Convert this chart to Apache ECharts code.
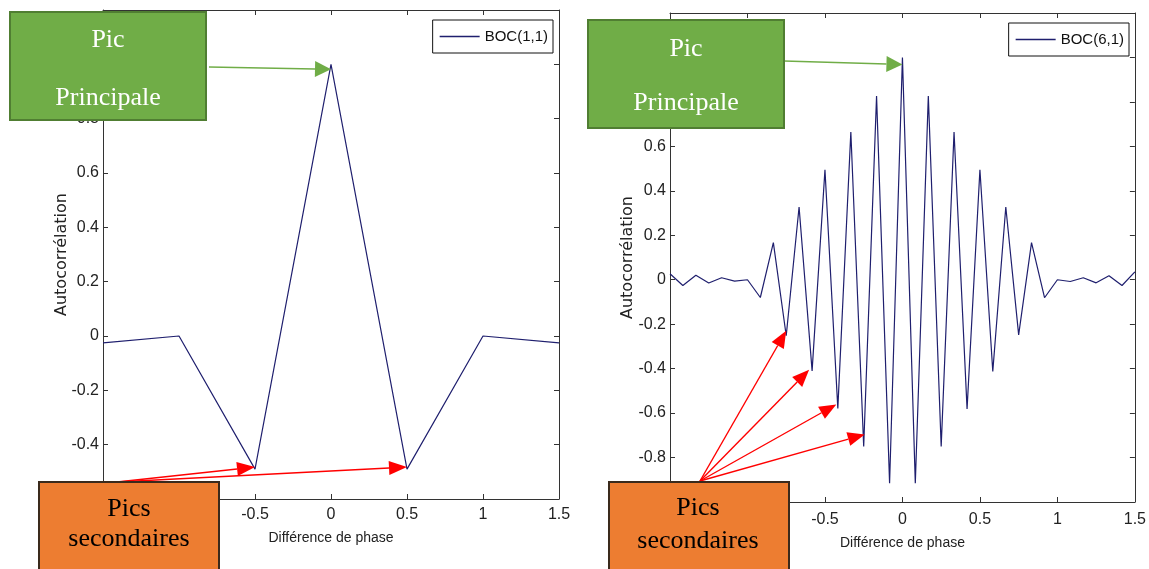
<!DOCTYPE html>
<html><head><meta charset="utf-8">
<script src="https://cdn.jsdelivr.net/npm/echarts@6/dist/echarts.min.js"></script>
<style>html,body{margin:0;padding:0;background:#fff}#c{width:1149px;height:569px}</style>
</head><body><div id="c"></div>
<script>
// ---------- data ----------
const phaseBoc11 = [-1.5, -1, -0.5, 0, 0.5, 1, 1.5];
const corrBoc11  = [-0.025, 0, -0.49, 1.0, -0.49, 0, -0.025];

const phaseBoc61 = [-1.5, -1.417, -1.333, -1.25, -1.167, -1.083, -1, -0.917, -0.833, -0.75, -0.667, -0.583,
  -0.5, -0.417, -0.333, -0.25, -0.167, -0.083, 0, 0.083, 0.167, 0.25, 0.333, 0.417, 0.5, 0.583, 0.667,
  0.75, 0.833, 0.917, 1, 1.083, 1.167, 1.25, 1.333, 1.417, 1.5];
const corrBoc61  = [0.027, -0.026, 0.02, -0.015, 0.009, -0.006, 0, -0.08, 0.167, -0.252, 0.327, -0.41,
  0.495, -0.579, 0.665, -0.75, 0.826, -0.916, 1.0, -0.916, 0.826, -0.75, 0.665, -0.581, 0.495, -0.413, 0.327,
  -0.248, 0.167, -0.081, 0, -0.008, 0.009, -0.014, 0.018, -0.026, 0.035];

const seriesNames = ['BOC(1,1)', 'BOC(6,1)'];
const xAxisTitle = 'Différence de phase';
const yAxisTitle = 'Autocorrélation';
const mainLabel = ['Pic', 'Principale'];
const secLabel = ['Pics', 'secondaires'];
// indices of the points the arrows point at
const mainPeakIdx = [3, 18];
const secPeakIdx = [[2, 4], [9, 11, 13, 15]];

// ---------- styling ----------
function hasFont(f) {
  const c = document.createElement('canvas').getContext('2d');
  const s = 'abcdefghijklmnopqrstuvwxyz0123456789';
  c.font = '40px monospace'; const a = c.measureText(s).width;
  c.font = '40px "' + f + '", monospace'; return Math.abs(c.measureText(s).width - a) > 0.5;
}
const narrowOK = hasFont('Liberation Sans Narrow');
const NARROW = narrowOK ? "'Liberation Sans Narrow',sans-serif" : "'Liberation Sans',Arial,sans-serif";
const TICK_FS = narrowOK ? 18 : 16;
const LEG_FS = narrowOK ? 17 : 15;
const XNAME_FS = narrowOK ? 16 : 14;
const YNAME_FONT = "'DejaVu Sans',sans-serif";
const SERIF = "'Liberation Serif','Times New Roman',serif";
const AX = '#333333';
const LINE = '#1f1f6e';
const GREEN = '#70ad47', GREEN_B = '#507e32', ORANGE = '#ed7d31', ORANGE_B = '#3a2a1c', RED = '#ff0000';

const chart = echarts.init(document.getElementById('c'), null, {renderer: 'canvas'});

function xAx(grid, pos, gap, labelMargin) {
  const main = pos === 'bottom';
  return {
    type: 'value', gridIndex: grid, position: pos, min: -1.5, max: 1.5, interval: 0.5,
    axisLine: {show: true, onZero: false, lineStyle: {color: AX, width: 1}},
    axisTick: {show: true, inside: true, length: 5, lineStyle: {color: AX}},
    axisLabel: {show: main, margin: labelMargin, fontFamily: NARROW, fontSize: TICK_FS, color: '#222'},
    splitLine: {show: false},
    name: main ? xAxisTitle : '', nameLocation: 'middle', nameGap: gap, nameMoveOverlap: false,
    nameTextStyle: {fontFamily: NARROW, fontSize: XNAME_FS, color: '#222'}
  };
}
function yAx(grid, pos, min, gap) {
  const main = pos === 'left';
  return {
    type: 'value', gridIndex: grid, position: pos, min: min, max: 1.2, interval: 0.2,
    axisLine: {show: true, onZero: false, lineStyle: {color: AX, width: 1}},
    axisTick: {show: true, inside: true, length: 5, lineStyle: {color: AX}},
    axisLabel: {show: main, margin: 4, fontFamily: NARROW, fontSize: TICK_FS, color: '#222', showMaxLabel: false},
    splitLine: {show: false},
    name: main ? yAxisTitle : '', nameLocation: 'middle', nameGap: gap, nameMoveOverlap: false,
    nameTextStyle: {fontFamily: YNAME_FONT, fontSize: 16, color: '#222'}
  };
}
function legend(name, right, top) {
  return {
    data: [name], right: right, top: top, orient: 'horizontal',
    icon: 'rect', itemWidth: 40, itemHeight: 1.5,
    padding: [9, 5, 9, 7], borderColor: '#111', borderWidth: 1, borderRadius: 0, backgroundColor: '#fff',
    textStyle: {fontFamily: NARROW, fontSize: LEG_FS, color: '#111'}, selectedMode: false
  };
}

chart.setOption({
  animation: false,
  backgroundColor: '#fff',
  grid: [
    {left: 103, top: 10, width: 456, height: 489, containLabel: false},
    {left: 670, top: 13, width: 465, height: 489, containLabel: false}
  ],
  xAxis: [xAx(0, 'bottom', 32, 8), xAx(0, 'top', 0, 0), xAx(1, 'bottom', 34, 10), xAx(1, 'top', 0, 0)],
  yAxis: [yAx(0, 'left', -0.6, 33), yAx(0, 'right', -0.6, 0), yAx(1, 'left', -1, 34), yAx(1, 'right', -1, 0)],
  legend: [legend(seriesNames[0], 596, 20), legend(seriesNames[1], 20, 23)],
  series: [
    {name: seriesNames[0], type: 'line', xAxisIndex: 0, yAxisIndex: 0, symbol: 'none',
     lineStyle: {color: LINE, width: 1.2}, itemStyle: {color: LINE},
     data: phaseBoc11.map((x, i) => [x, corrBoc11[i]])},
    {name: seriesNames[1], type: 'line', xAxisIndex: 2, yAxisIndex: 2, symbol: 'none',
     lineStyle: {color: LINE, width: 1.2}, itemStyle: {color: LINE},
     data: phaseBoc61.map((x, i) => [x, corrBoc61[i]])}
  ]
});

// ---------- annotations ----------
function px(panel, x, y) {
  return chart.convertToPixel({xAxisIndex: panel * 2, yAxisIndex: panel * 2}, [x, y]);
}
function arrow(from, to, color, lw, headLen, headHalf) {
  const dx = to[0] - from[0], dy = to[1] - from[1];
  const L = Math.sqrt(dx * dx + dy * dy), ux = dx / L, uy = dy / L;
  const bx = to[0] - ux * headLen, by = to[1] - uy * headLen;
  return [
    {type: 'line', z: 50, shape: {x1: from[0], y1: from[1], x2: bx, y2: by}, style: {stroke: color, lineWidth: lw}},
    {type: 'polygon', z: 50, shape: {points: [to, [bx - uy * headHalf, by + ux * headHalf], [bx + uy * headHalf, by - ux * headHalf]]},
     style: {fill: color}}
  ];
}
function box(x, y, w, h, fill, stroke, lines, color, lineYs, cx) {
  const els = [{type: 'rect', z: 60, shape: {x: x, y: y, width: w, height: h}, style: {fill: fill, stroke: stroke, lineWidth: 2}}];
  lines.forEach((t, i) => els.push({type: 'text', z: 61, x: cx, y: lineYs[i],
    style: {text: t, fill: color, font: '26px ' + SERIF, align: 'center', verticalAlign: 'middle'}}));
  return els;
}

const g = [];
// left panel arrows
{
  const p = mainPeakIdx[0];
  const t = px(0, phaseBoc11[p], corrBoc11[p]);
  g.push(...arrow([209, 67], [t[0], t[1] + 5], GREEN, 1.5, 16, 8));
  secPeakIdx[0].forEach(i => {
    const s = px(0, phaseBoc11[i], corrBoc11[i]);
    g.push(...arrow([117, 482], [s[0], s[1] - 2], RED, 1.4, 18, 7));
  });
}
// right panel arrows
{
  const p = mainPeakIdx[1];
  const t = px(1, phaseBoc61[p], corrBoc61[p]);
  g.push(...arrow([784, 61], [t[0], t[1] + 7], GREEN, 1.5, 16, 8));
  const offs = [[0, -5], [-3, -1], [-1.5, -4], [1, -12]];
  secPeakIdx[1].forEach((i, k) => {
    const s = px(1, phaseBoc61[i], corrBoc61[i]);
    g.push(...arrow([700, 481], [s[0] + offs[k][0], s[1] + offs[k][1]], RED, 1.4, 17, 7));
  });
}
g.push(...box(10, 12, 196, 108, GREEN, GREEN_B, mainLabel, '#fff', [40, 98], 108));
g.push(...box(39, 482, 180, 100, ORANGE, ORANGE_B, secLabel, '#000', [509, 539], 129));
g.push(...box(588, 20, 196, 108, GREEN, GREEN_B, mainLabel, '#fff', [49, 103], 686));
g.push(...box(609, 482, 180, 100, ORANGE, ORANGE_B, secLabel, '#000', [508, 541], 698));

chart.setOption({graphic: g});
</script>
</body></html>
